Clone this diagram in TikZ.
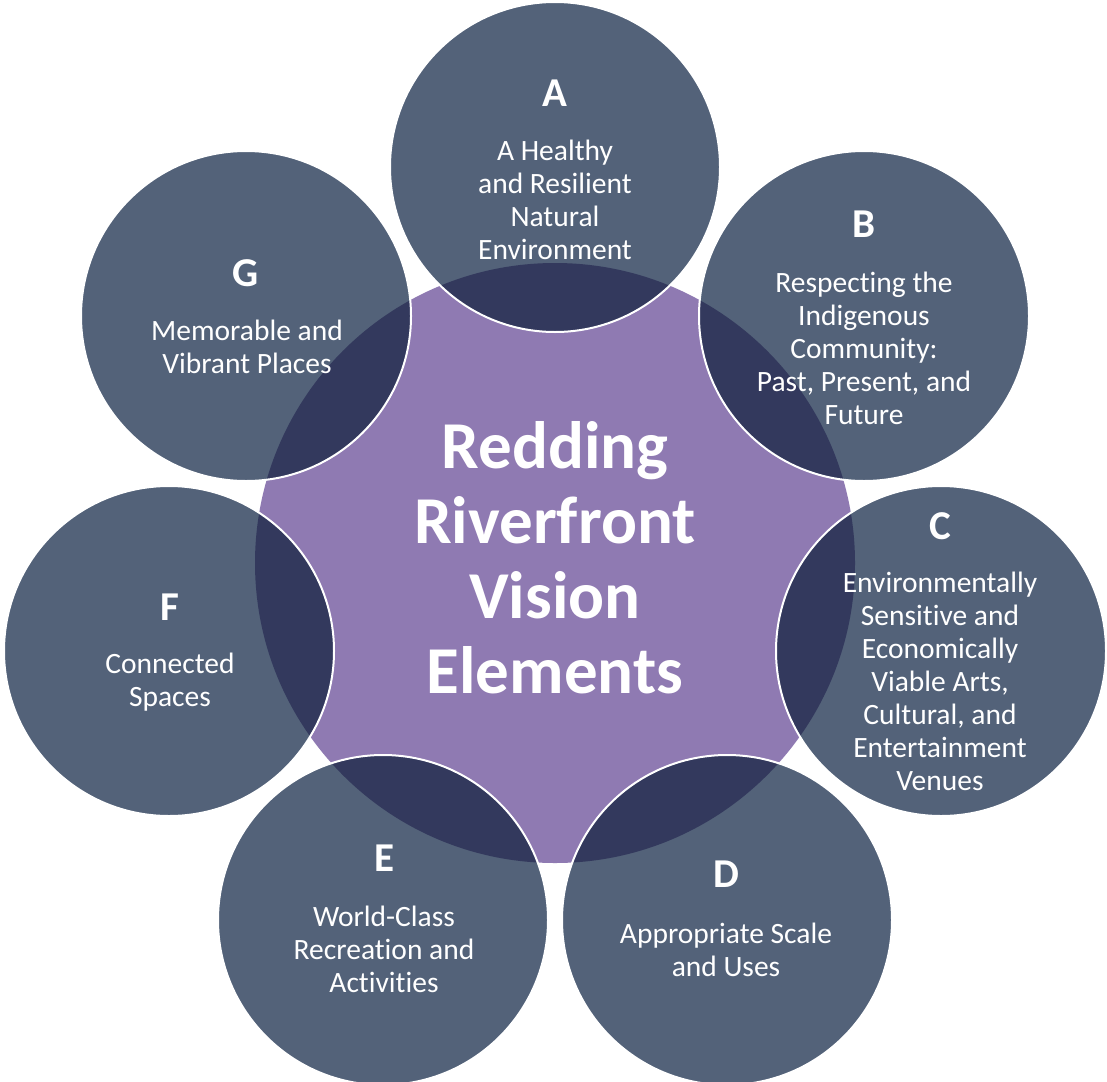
\documentclass[tikz,border=0pt]{standalone}
\usepackage{fontspec}
\setmainfont{Carlito}[Ligatures=NoCommon]
\definecolor{outerC}{HTML}{536279}
\definecolor{hubC}{HTML}{8F7AB2}
\definecolor{overlapC}{HTML}{33395D}
\tikzset{
  hub/.style={circle, fill=hubC, minimum size=600pt, inner sep=0pt},
  petal/.style={circle, fill=outerC, minimum size=330pt, inner sep=0pt},
  letterlbl/.style={text=white, font=\fontsize{41}{48}\selectfont\bfseries, inner sep=0pt},
  bodylbl/.style={text=white, font=\fontsize{29.5}{33}\selectfont, align=center, inner sep=0pt},
  titlelbl/.style={text=white, font=\fontsize{67}{75}\selectfont\bfseries, align=center, inner sep=0pt},
  rim/.style={draw=white, line width=2pt}
}
\begin{document}
\begin{tikzpicture}[x=1pt,y=-1pt]
\useasboundingbox[fill=white] (0,0) rectangle (1107,1081);
% hub
\node[hub] (hub) at (555,563) {};
% petals
\node[petal] (A) at (555,167) {};
\node[petal] (B) at (864,316) {};
\node[petal] (C) at (941,651) {};
\node[petal] (D) at (727,920) {};
\node[petal] (E) at (383,920) {};
\node[petal] (F) at (169,651) {};
\node[petal] (G) at (246,316) {};
% overlaps
\begin{scope}
\clip (hub.center) circle [radius=300pt];
\foreach \p in {A,B,C,D,E,F,G}{
  \fill[overlapC] (\p.center) circle [radius=165pt];
}
\end{scope}
% rims
\foreach \p in {A,B,C,D,E,F,G}{
  \draw[rim] (\p.center) circle [radius=165pt];
}
% title
\node[titlelbl] (title) at (555,558) {Redding\\Riverfront\\Vision\\Elements};
% labels
\node[letterlbl] (Al) at (555,93) {A};
\node[bodylbl] (At) at (555,200) {A Healthy\\and Resilient\\Natural\\Environment};
\node[letterlbl] (Bl) at (864,224) {B};
\node[bodylbl] (Bt) at (864,348) {Respecting the\\Indigenous\\Community:\\Past, Present, and\\Future};
\node[letterlbl] (Cl) at (940,526) {C};
\node[bodylbl] (Ct) at (940,681) {Environmentally\\Sensitive and\\Economically\\Viable Arts,\\Cultural, and\\Entertainment\\Venues};
\node[letterlbl] (Dl) at (726,874) {D};
\node[bodylbl] (Dt) at (726,950) {Appropriate Scale\\and Uses};
\node[letterlbl] (El) at (384,858) {E};
\node[bodylbl] (Et) at (384,949) {World-Class\\Recreation and\\Activities};
\node[letterlbl] (Fl) at (170,607) {F};
\node[bodylbl] (Ft) at (170,682) {Connected\\Spaces};
\node[letterlbl] (Gl) at (246,273) {G};
\node[bodylbl] (Gt) at (247,347) {Memorable and\\Vibrant Places};
\end{tikzpicture}
\end{document}
